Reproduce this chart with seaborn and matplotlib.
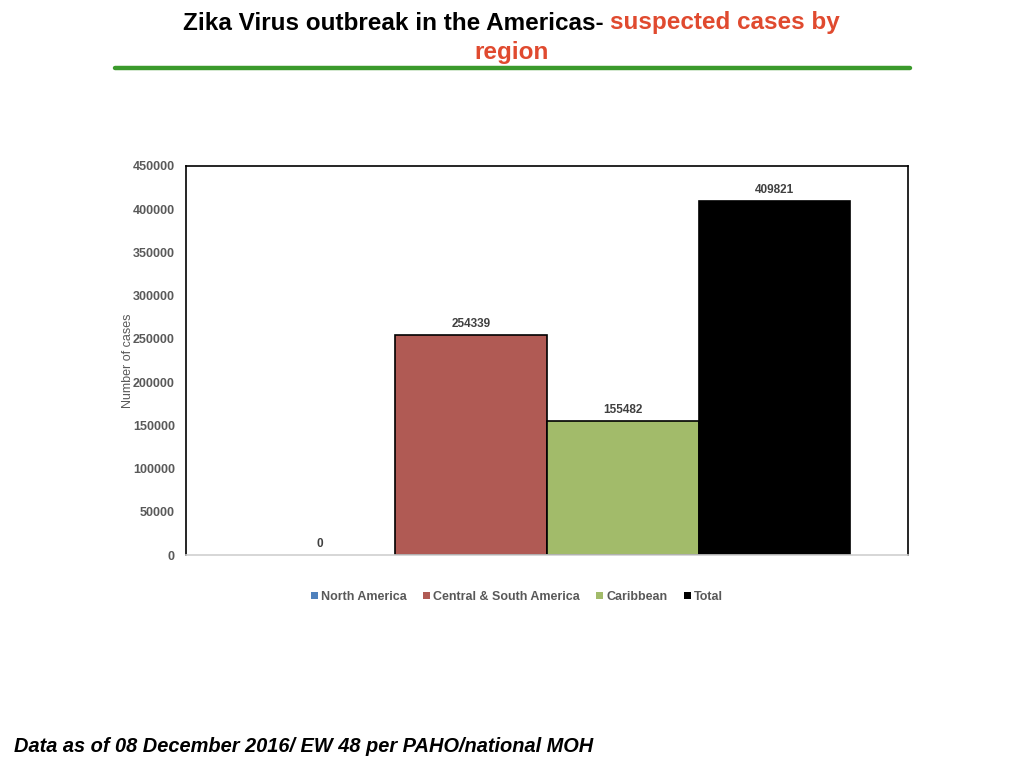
import matplotlib
matplotlib.use("Agg")
import matplotlib.pyplot as plt
from matplotlib.patches import Patch
import seaborn as sns
import pandas as pd

regions = ["North America", "Central & South America", "Caribbean", "Total"]
cases = [0, 254339, 155482, 409821]
colors = ["#4f81bd", "#b05a54", "#a2bb6a", "#000000"]
yticks = [0, 50000, 100000, 150000, 200000, 250000, 300000, 350000, 400000, 450000]

sns.set_theme(style="white")
plt.rcParams['font.family'] = ['Liberation Sans', 'DejaVu Sans']

df = pd.DataFrame({"region": regions, "cases": cases})

fig = plt.figure(figsize=(10.24, 7.68), dpi=100)
ax = fig.add_axes([186/1024, 1-555/768, (908-186)/1024, (555-166)/768])

sns.barplot(data=df, x="region", y="cases", hue="region", palette=colors,
            saturation=1, width=1.0, edgecolor="black", linewidth=1.2,
            legend=False, ax=ax)
for p in ax.patches:
    if p.get_height() == 0:
        p.set_edgecolor("none")

ax.set_xlim(-0.5-0.38, 3.5+0.38)
ax.set_ylim(0, 450000)
ax.set_yticks(yticks)
ax.set_yticklabels([str(v) for v in yticks], fontsize=9, fontweight="bold", color="#595959")
ax.set_xticks([])
ax.set_xlabel("")
ax.set_ylabel("Number of cases", fontsize=9, color="#595959", labelpad=-1)
ax.tick_params(axis="y", length=0, pad=8)
for s in ["left", "top", "right"]:
    ax.spines[s].set_color("black")
    ax.spines[s].set_linewidth(1.2)
ax.spines["bottom"].set_color("#d0d0d0")
ax.spines["bottom"].set_linewidth(1.2)

for i, v in enumerate(cases):
    ax.annotate(str(v), xy=(i, v), xytext=(0, 3.5), textcoords="offset points",
                ha="center", va="bottom", fontsize=8.5, fontweight="bold", color="#404040")

handles = [Patch(facecolor=c, edgecolor="none") for c in colors]
fig.legend(handles, regions, loc="center", bbox_to_anchor=(0.505, 1-597/768), ncol=4,
           frameon=False, handlelength=0.55, handleheight=0.55,
           handletextpad=0.25, columnspacing=1.3, labelcolor="#595959",
           prop={'weight': 'bold', 'size': 9})

fig.text(604/1024, 1-23/768, "Zika Virus outbreak in the Americas-", ha="right", va="center",
         fontsize=17.5, fontweight="bold", color="black")
fig.text(610/1024, 1-23/768, "suspected cases by", ha="left", va="center",
         fontsize=17.5, fontweight="bold", color="#e04a2f")
fig.text(512/1024, 1-53/768, "region", ha="center", va="center",
         fontsize=17.5, fontweight="bold", color="#e04a2f")

fig.add_artist(plt.Line2D([115/1024, 910/1024], [1-68/768, 1-68/768], color="#3b9a2c", linewidth=3.2))

fig.text(14/1024, 1-747/768, "Data as of 08 December 2016/ EW 48 per PAHO/national MOH",
         ha="left", va="center", fontsize=14.4, fontweight="bold", style="italic",
         color="black")

fig.savefig("out.png", dpi=100)
